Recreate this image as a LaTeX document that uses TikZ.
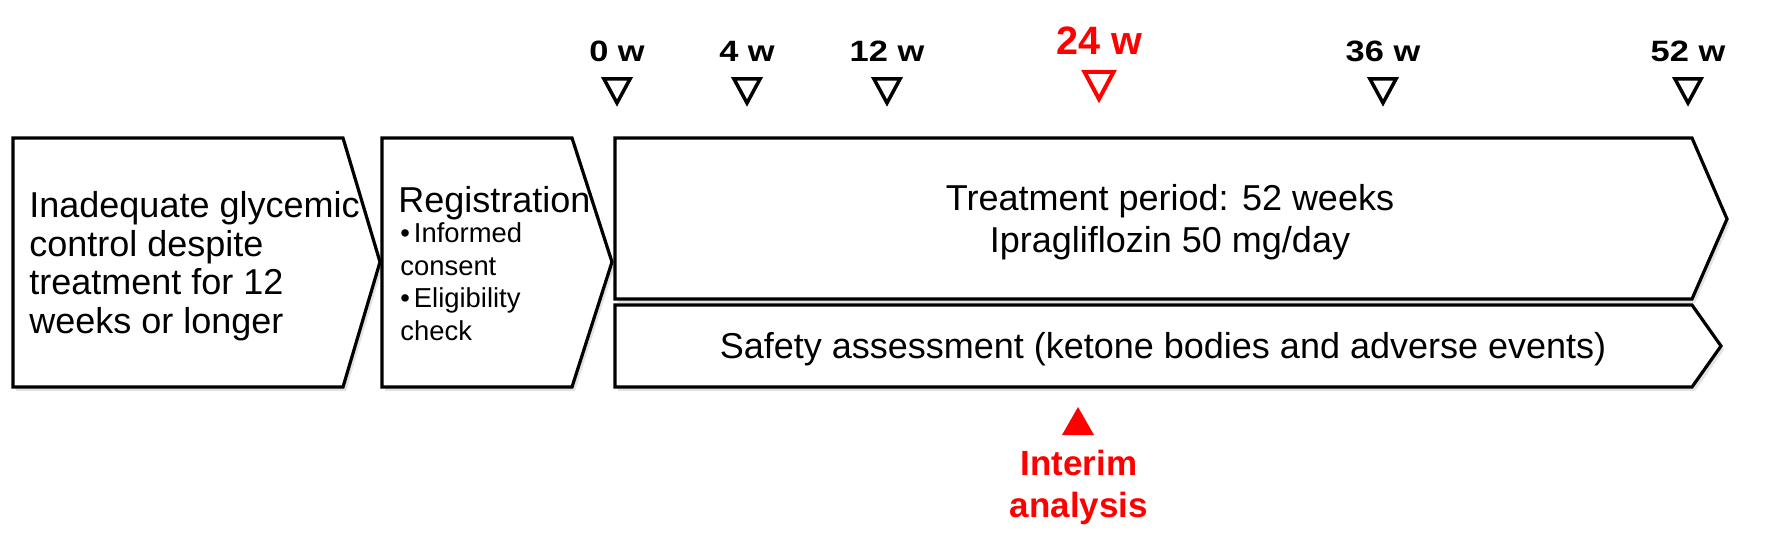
\documentclass[tikz,border=0pt]{standalone}
\usepackage{fontspec}
\setmainfont{Liberation Sans}
\newfontfamily\lblfont[FakeStretch=1.17]{Liberation Sans}
\usetikzlibrary{shadows}
\definecolor{tred}{RGB}{255,0,0}
\begin{document}
\begin{tikzpicture}[x=0.5pt,y=-0.5pt,
  chev/.style={draw=black, line width=1.6pt, fill=white, line join=miter,
    drop shadow={shadow xshift=1.5pt, shadow yshift=-2pt, opacity=0.22}},
  body/.style={inner sep=0pt, font=\fontsize{18}{19.25}\selectfont},
  small/.style={inner sep=0pt, font=\fontsize{13.7}{16.2}\selectfont},
  wk/.style={inner sep=0pt, font=\lblfont\bfseries\fontsize{14.7}{17}\selectfont},
  tri/.style={draw=black, line width=1.75pt, line join=miter}]
\useasboundingbox (0,0) rectangle (1772,551);

% boxes
\draw[chev] (13,138) -- (343,138) -- (380,262) -- (343,387) -- (13,387) -- cycle;
\draw[chev] (382,138) -- (572,138) -- (612,262) -- (572,387) -- (382,387) -- cycle;
\draw[chev] (615,138) -- (1692,138) -- (1727,219) -- (1692,299) -- (615,299) -- cycle;
\draw[chev] (615,305) -- (1692,305) -- (1721,346) -- (1692,387) -- (615,387) -- cycle;

% texts (base anchor of a multi-line node = baseline of its last line)
\node[body, align=left, anchor=base west] (inadequate) at (29,333)
  {Inadequate glycemic\\control despite\\treatment for 12\\weeks or longer};
\node[body, anchor=base west] (reg) at (398,212) {Registration};
\node[small, align=left, anchor=base west] (reglist) at (400,340)
  {•\hspace{2pt}Informed\\consent\\•\hspace{2pt}Eligibility\\check};
\node[inner sep=0pt, font=\fontsize{18}{21}\selectfont, align=center, anchor=base] (treat) at (1170,252)
  {Treatment period: 52 weeks\\Ipragliflozin 50 mg/day};
\node[body, anchor=base] (safety) at (1163,358)
  {Safety assessment (ketone bodies and adverse events)};

% time points
\foreach \x/\l/\n in {617/0 w/w0, 747/4 w/w4, 887/12 w/w12, 1383/36 w/w36, 1688/52 w/w52}{
  \node[wk, anchor=base] (lbl\n) at (\x,62) {\l};
  \draw[tri] (\x-13,79) -- (\x+13,79) -- (\x,103) -- cycle;
}
\node[inner sep=0pt, text=tred, font=\bfseries\fontsize{19.8}{22}\selectfont, anchor=base] (lblw24) at (1099,55) {24 w};
\draw[draw=tred, line width=2pt, line join=miter] (1084.5,72) -- (1113.5,72) -- (1099,99) -- cycle;

% interim analysis
\fill[tred] (1062,435) -- (1094,435) -- (1078,407) -- cycle;
\node[inner sep=0pt, text=tred, font=\bfseries\fontsize{17.5}{21}\selectfont, align=center, anchor=base] (interim) at (1079,517)
  {Interim\\analysis};
\end{tikzpicture}
\end{document}
